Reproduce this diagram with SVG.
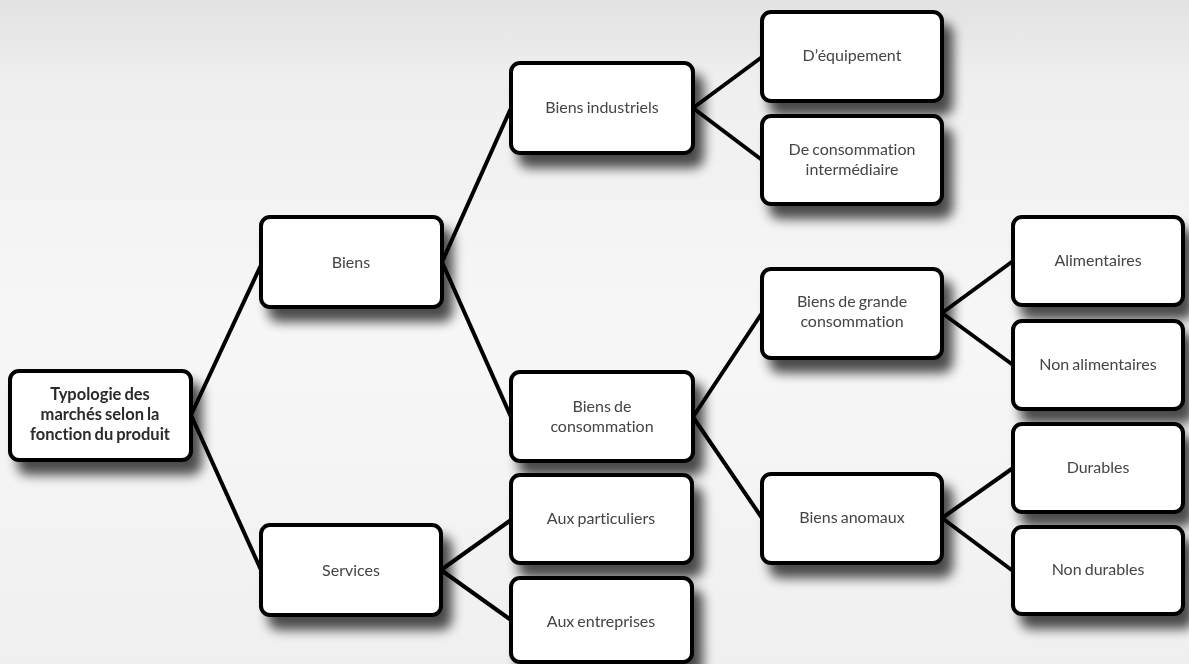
<svg xmlns="http://www.w3.org/2000/svg" width="1189" height="664" viewBox="0 0 1189 664">
  <defs>
    <linearGradient id="bg" x1="0" y1="0" x2="0" y2="1">
      <stop offset="0" stop-color="#e2e2e2"/>
      <stop offset="0.12" stop-color="#efefef"/>
      <stop offset="0.5" stop-color="#f7f7f7"/>
      <stop offset="1" stop-color="#f0f0f0"/>
    </linearGradient>
    <filter id="shadow" x="-20%" y="-20%" width="150%" height="160%">
      <feGaussianBlur in="SourceAlpha" stdDeviation="6"/>
      <feOffset dx="9" dy="13" result="b"/>
      <feComponentTransfer>
        <feFuncA type="linear" slope="0.7"/>
      </feComponentTransfer>
      <feMerge>
        <feMergeNode/>
        <feMergeNode in="SourceGraphic"/>
      </feMerge>
    </filter>
  </defs>
  <style>
    .box { fill: #ffffff; stroke: #000000; stroke-width: 4; }
    .lbl { font-family: Lato, "Open Sans", "Liberation Sans", sans-serif; font-size: 16px; fill: #444444; text-anchor: middle; font-variant-ligatures: none; word-spacing: -1px; }
    .root { font-weight: bold; fill: #2a2a2a; font-size: 16.5px; }
    .link { stroke: #000000; stroke-width: 4; fill: none; stroke-linecap: round; }
  </style>

  <rect x="0" y="0" width="1189" height="664" fill="url(#bg)"/>

  <!-- tree links: parent right edge to child left edge -->
  <g id="connectors">
    <line class="link" x1="191" y1="415" x2="261" y2="265"/>
    <line class="link" x1="191" y1="415" x2="261" y2="570"/>
    <line class="link" x1="442" y1="262" x2="511" y2="108"/>
    <line class="link" x1="442" y1="262" x2="511" y2="417"/>
    <line class="link" x1="441" y1="570" x2="511" y2="520"/>
    <line class="link" x1="441" y1="570" x2="511" y2="620"/>
    <line class="link" x1="693" y1="108" x2="762" y2="57"/>
    <line class="link" x1="693" y1="108" x2="762" y2="160"/>
    <line class="link" x1="693" y1="417" x2="762" y2="313"/>
    <line class="link" x1="693" y1="417" x2="762" y2="518"/>
    <line class="link" x1="942" y1="313" x2="1013" y2="261"/>
    <line class="link" x1="942" y1="313" x2="1013" y2="365"/>
    <line class="link" x1="942" y1="518" x2="1013" y2="468"/>
    <line class="link" x1="942" y1="518" x2="1013" y2="571"/>
  </g>

  <g id="n-root" filter="url(#shadow)">
    <rect class="box" x="10" y="371" width="181" height="89" rx="9"/>
    <text class="lbl root" x="100" y="400">Typologie des</text>
    <text class="lbl root" x="100" y="420">marchés selon la</text>
    <text class="lbl root" x="100" y="440">fonction du produit</text>
  </g>

  <g id="n-biens" filter="url(#shadow)">
    <rect class="box" x="261" y="217" width="181" height="90" rx="9"/>
    <text class="lbl" x="351" y="268">Biens</text>
  </g>

  <g id="n-services" filter="url(#shadow)">
    <rect class="box" x="261" y="525" width="180" height="90" rx="9"/>
    <text class="lbl" x="351" y="576">Services</text>
  </g>

  <g id="n-industriels" filter="url(#shadow)">
    <rect class="box" x="511" y="63" width="182" height="90" rx="9"/>
    <text class="lbl" x="602" y="113">Biens industriels</text>
  </g>

  <g id="n-consommation" filter="url(#shadow)">
    <rect class="box" x="511" y="372" width="182" height="89" rx="9"/>
    <text class="lbl" x="602" y="412">Biens de</text>
    <text class="lbl" x="602" y="432">consommation</text>
  </g>

  <g id="n-particuliers" filter="url(#shadow)">
    <rect class="box" x="511" y="475" width="181" height="88" rx="9"/>
    <text class="lbl" x="601" y="524">Aux particuliers</text>
  </g>

  <g id="n-entreprises" filter="url(#shadow)">
    <rect class="box" x="511" y="578" width="181" height="84" rx="9"/>
    <text class="lbl" x="601" y="627">Aux entreprises</text>
  </g>

  <g id="n-equipement" filter="url(#shadow)">
    <rect class="box" x="762" y="12" width="180" height="89" rx="9"/>
    <text class="lbl" x="852" y="61">D’équipement</text>
  </g>

  <g id="n-intermediaire" filter="url(#shadow)">
    <rect class="box" x="762" y="116" width="180" height="88" rx="9"/>
    <text class="lbl" x="852" y="155">De consommation</text>
    <text class="lbl" x="852" y="175">intermédiaire</text>
  </g>

  <g id="n-grande-conso" filter="url(#shadow)">
    <rect class="box" x="762" y="269" width="180" height="89" rx="9"/>
    <text class="lbl" x="852" y="307">Biens de grande</text>
    <text class="lbl" x="852" y="327">consommation</text>
  </g>

  <g id="n-anomaux" filter="url(#shadow)">
    <rect class="box" x="762" y="474" width="180" height="89" rx="9"/>
    <text class="lbl" x="852" y="523">Biens anomaux</text>
  </g>

  <g id="n-alimentaires" filter="url(#shadow)">
    <rect class="box" x="1013" y="217" width="170" height="88" rx="9"/>
    <text class="lbl" x="1098" y="266">Alimentaires</text>
  </g>

  <g id="n-non-alimentaires" filter="url(#shadow)">
    <rect class="box" x="1013" y="321" width="170" height="88" rx="9"/>
    <text class="lbl" x="1098" y="370">Non alimentaires</text>
  </g>

  <g id="n-durables" filter="url(#shadow)">
    <rect class="box" x="1013" y="424" width="170" height="88" rx="9"/>
    <text class="lbl" x="1098" y="473">Durables</text>
  </g>

  <g id="n-non-durables" filter="url(#shadow)">
    <rect class="box" x="1013" y="527" width="170" height="87" rx="9"/>
    <text class="lbl" x="1098" y="575">Non durables</text>
  </g>
</svg>
